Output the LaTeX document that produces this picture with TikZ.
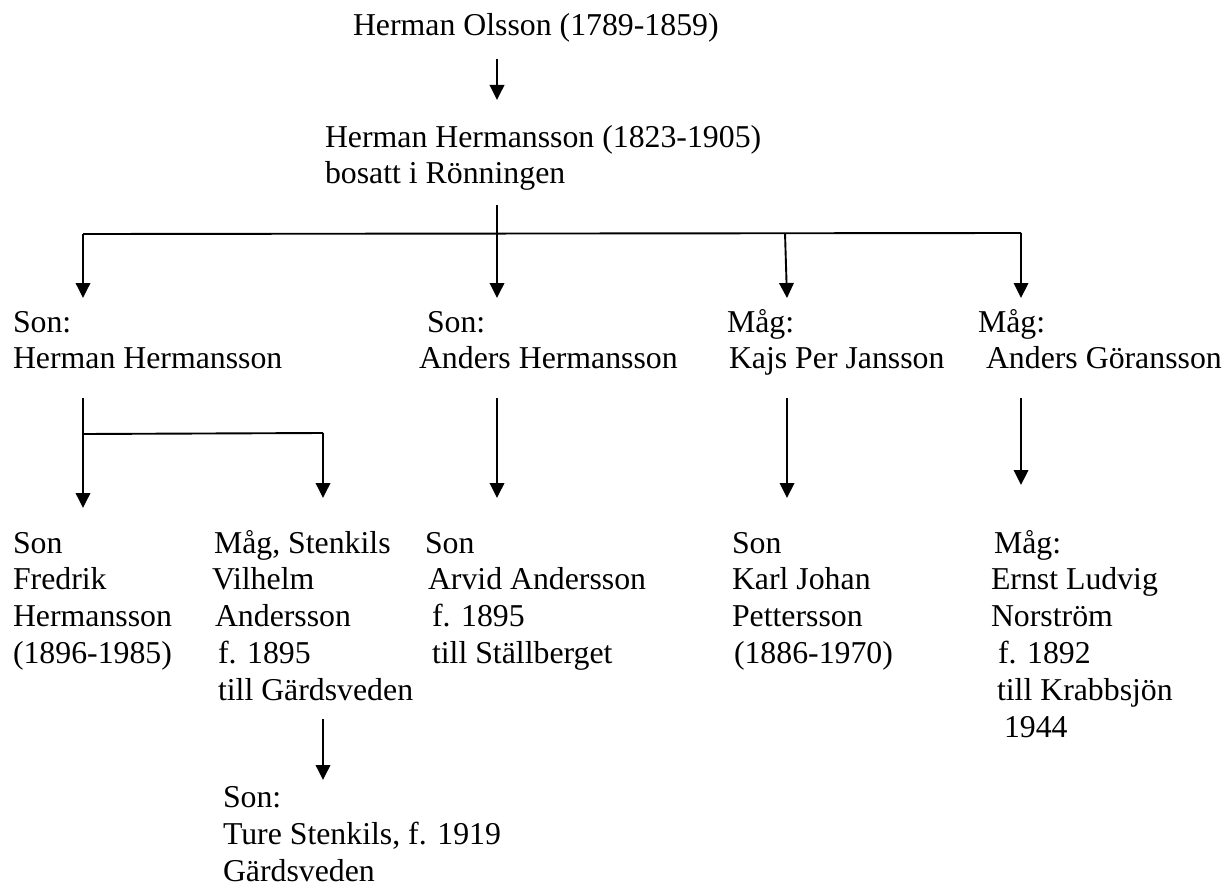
\documentclass[tikz,border=0pt]{standalone}
\usepackage{fontspec}
\setmainfont{Liberation Serif}
\usetikzlibrary{arrows.meta}
\begin{document}
\begin{tikzpicture}[x=1pt,y=-1pt,
  txt/.style={inner sep=0pt,outer sep=0pt,align=left,anchor=base west,
    font=\fontsize{31.8pt}{36.8pt}\selectfont},
  ln/.style={line width=1.9pt},
  arr/.style={line width=1.9pt,-{Triangle[width=14.5pt,length=15pt]}}]
\useasboundingbox[fill=white] (0,0) rectangle (1226,888);
% text blocks (anchored at the baseline of their last line)
\node[txt] (ho) at (353,36) {Herman Olsson (1789-1859)};
\node[txt] (hh) at (325,183.8) {Herman Hermansson (1823-1905)\\bosatt i Rönningen};
\node[txt] (s1) at (13,368.8) {Son:\\Herman Hermansson};
\node[txt] (s2) at (419,368.8) {\hspace*{8pt}Son:\\Anders Hermansson};
\node[txt] (s3) at (727,368.8) {Måg:\\\hspace*{2pt}Kajs Per Jansson};
\node[txt] (s4) at (978,368.8) {Måg:\\\hspace*{8pt}Anders Göransson};
\node[txt] (c1) at (13,663.4) {Son\\Fredrik\\Hermansson\\(1896-1985)};
\node[txt] (c2) at (212,700.2) {\hspace*{2pt}Måg, Stenkils\\Vilhelm\\\hspace*{3pt}Andersson\\\hspace*{6pt}f. 1895\\\hspace*{6pt}till Gärdsveden};
\node[txt] (c3) at (425,663.4) {Son\\\hspace*{3pt}Arvid Andersson\\\hspace*{7pt}f. 1895\\\hspace*{7pt}till Ställberget};
\node[txt] (c4) at (732,663.4) {Son\\Karl Johan\\Pettersson\\\hspace*{2pt}(1886-1970)};
\node[txt] (c5) at (991,737) {\hspace*{3pt}Måg:\\Ernst Ludvig\\Norström\\\hspace*{7pt}f. 1892\\\hspace*{6pt}till Krabbsjön\\\hspace*{13pt}1944};
\node[txt] (gs) at (223,881.5) {Son:\\Ture Stenkils, f. 1919\\Gärdsveden};
% connector points
\coordinate (a0s) at (497,59);   \coordinate (a0e) at (497,100);
\coordinate (t0) at (497,205);   \coordinate (t1) at (497,298);
\coordinate (hl) at (83,234);    \coordinate (hr) at (1021,233);
\coordinate (e1) at (83,298);
\coordinate (k0) at (785,233);   \coordinate (k1) at (787,298);
\coordinate (e4) at (1021,298);
\coordinate (b1s) at (83,398);   \coordinate (b1e) at (83,508);
\coordinate (b1j) at (83,434);   \coordinate (b1r) at (323,433);
\coordinate (b1f) at (323,498);
\coordinate (b2s) at (497,398);  \coordinate (b2e) at (497,498);
\coordinate (b3s) at (787,398);  \coordinate (b3e) at (787,498);
\coordinate (b4s) at (1021,398); \coordinate (b4e) at (1021,485);
\coordinate (g0) at (323,719);   \coordinate (g1) at (323,780);
% connectors
\draw[arr] (a0s) -- (a0e);
\draw[arr] (t0) -- (t1);
\draw[ln] (hl) -- (hr);
\draw[arr] (hl) -- (e1);
\draw[arr] (k0) -- (k1);
\draw[arr] (hr) -- (e4);
\draw[arr] (b1s) -- (b1e);
\draw[ln] (b1j) -- (b1r);
\draw[arr] (b1r) -- (b1f);
\draw[arr] (b2s) -- (b2e);
\draw[arr] (b3s) -- (b3e);
\draw[arr] (b4s) -- (b4e);
\draw[arr] (g0) -- (g1);
\end{tikzpicture}
\end{document}
